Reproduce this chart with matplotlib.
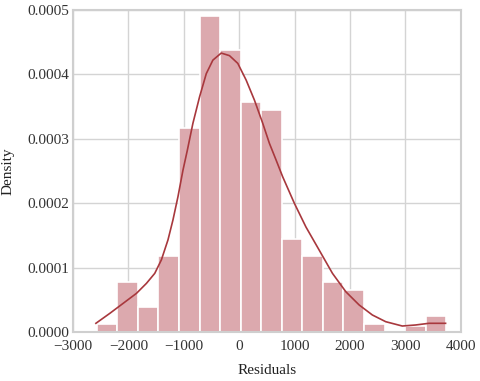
import numpy as np
import matplotlib.pyplot as plt

plt.rcParams['font.family'] = ['Liberation Serif', 'DejaVu Serif']

# histogram bins (left edges) and density heights
bin_left = [-2570, -2199, -1828, -1457, -1086, -715, -344, 27, 398, 769,
            1140, 1511, 1882, 2253, 2624, 2995, 3366]
bin_width = 371
density = [0.0000124, 0.0000775, 0.0000388, 0.000118, 0.000316, 0.00049,
           0.000437, 0.000357, 0.000344, 0.000144, 0.000118, 0.000078,
           0.000065, 0.000012, 0.0, 0.0000095, 0.0000248]

# kde curve points
kde_x = [-2586, -2334, -2094, -1854, -1674, -1524, -1404, -1285, -1195,
         -1105, -1015, -936, -835, -715, -594, -475, -324, -175, -25, 126,
         275, 425, 545, 666, 785, 995, 1205, 1445, 1684, 1925, 2165, 2404,
         2645, 2944, 3185, 3424, 3725]
kde_y = [0.0000135, 0.000029, 0.0000445, 0.00006, 0.0000755, 0.000091,
         0.000112, 0.000143, 0.000174, 0.00021, 0.000251, 0.000282,
         0.000324, 0.000365, 0.000401, 0.000422, 0.000433, 0.000429,
         0.000417, 0.000391, 0.00036, 0.000324, 0.000293, 0.000267,
         0.000241, 0.0002, 0.000163, 0.000127, 0.000091, 0.0000625,
         0.000042, 0.0000264, 0.000016, 0.0000093, 0.0000109, 0.0000135,
         0.0000135]

fig = plt.figure(figsize=(4.8, 3.81), dpi=100)
ax = fig.add_axes([0.152, 0.1286, 0.808, 0.8454])

ax.bar(bin_left, density, width=bin_width, align='edge',
       color='#dca9ae', edgecolor='white', linewidth=1.2, zorder=2)
ax.plot(kde_x, kde_y, color='#a8383d', linewidth=1.2, zorder=3,
        solid_joinstyle='round')

ax.set_xlim(-3000, 4000)
ax.set_ylim(0, 0.0005)
ax.set_xticks(np.arange(-3000, 4001, 1000))
ax.set_yticks([0, 0.0001, 0.0002, 0.0003, 0.0004, 0.0005])
ax.set_yticklabels(['0.0000', '0.0001', '0.0002', '0.0003', '0.0004', '0.0005'])
ax.tick_params(length=0, labelsize=11, colors='#333333')
ax.tick_params(axis='y', pad=3)
ax.tick_params(axis='x', pad=6)

ax.set_xlabel('Residuals', fontsize=11, color='#222222', labelpad=8)
ax.set_ylabel('Density', fontsize=11, color='#222222', labelpad=9)

ax.grid(True, color='#d4d4d4', linewidth=1.0, zorder=0)
ax.set_axisbelow(True)
for spine in ax.spines.values():
    spine.set_edgecolor('#cfcfcf')
    spine.set_linewidth(1.5)

fig.savefig('out.png', dpi=100, facecolor='white')
